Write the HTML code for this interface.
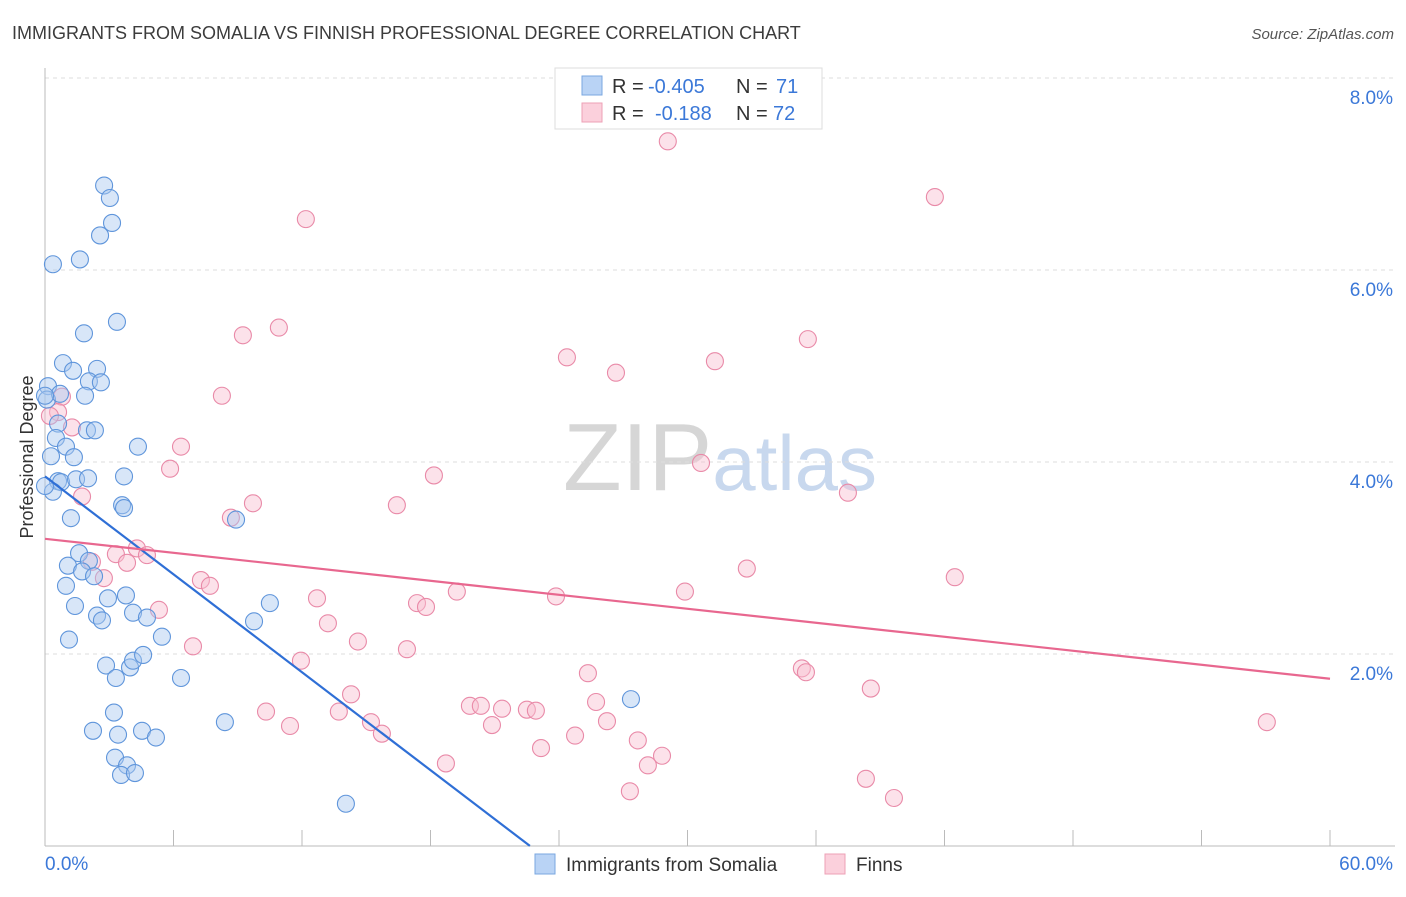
<!DOCTYPE html>
<html><head><meta charset="utf-8"><style>
body{margin:0;background:#fff;font-family:"Liberation Sans",sans-serif;}
svg text{font-family:"Liberation Sans",sans-serif;}
</style></head><body>
<svg id="chart" width="1406" height="892" xmlns="http://www.w3.org/2000/svg">
<text x="12" y="39" font-size="18" fill="#3c3c3c">IMMIGRANTS FROM SOMALIA VS FINNISH PROFESSIONAL DEGREE CORRELATION CHART</text>
<text x="1394" y="39" font-size="15" fill="#555" text-anchor="end" font-style="italic">Source: ZipAtlas.com</text>
<text x="720" y="490" font-size="96" text-anchor="middle" font-family="Liberation Serif" fill="#ddd"><tspan fill="#d6d6d6">ZIP</tspan><tspan fill="#c8d8ee" font-family="Liberation Sans" font-size="78">atlas</tspan></text>
<g id="grid"></g>
<g id="axes"></g>
<g id="marks"></g>
<text transform="translate(33,457) rotate(-90)" font-size="18" fill="#333" text-anchor="middle">Professional Degree</text>
<g>
<rect x="555" y="68" width="267" height="61" fill="#fff" stroke="#ddd"/>
<rect x="582" y="76" width="20" height="19" fill="#b9d3f5" stroke="#7aa7e0"/>
<rect x="582" y="103" width="20" height="19" fill="#fbd0dc" stroke="#eea0b6"/>
<text x="612" y="93" font-size="20" fill="#333">R =</text>
<text x="648" y="93" font-size="20" fill="#3b78d8">-0.405</text>
<text x="736" y="93" font-size="20" fill="#333">N =</text>
<text x="776" y="93" font-size="20" fill="#3b78d8">71</text>
<text x="612" y="120" font-size="20" fill="#333">R =</text>
<text x="655" y="120" font-size="20" fill="#3b78d8">-0.188</text>
<text x="736" y="120" font-size="20" fill="#333">N =</text>
<text x="773" y="120" font-size="20" fill="#3b78d8">72</text>
</g>
<g>
<rect x="535" y="854" width="20" height="20" fill="#b9d3f5" stroke="#7aa7e0"/>
<text x="566" y="871" font-size="19" fill="#333">Immigrants from Somalia</text>
<rect x="825" y="854" width="20" height="20" fill="#fbd0dc" stroke="#eea0b6"/>
<text x="856" y="871" font-size="19" fill="#333">Finns</text>
</g>
</svg>
<script>
const yTicks=[2,4,6,8];
const yTickLabels=["2.0%","4.0%","6.0%","8.0%"];
const xTickLabels=["0.0%","60.0%"];
const blueX=[2.76,3.03,3.13,2.57,0.37,1.63,3.36,1.82,0.84,1.31,2.43,2.05,2.61,0.14,0.09,0.7,1.87,0.61,1.96,2.33,0.51,0.98,1.35,0.28,4.34,3.69,0.61,0.75,1.45,2.01,0.37,3.6,3.69,8.92,1.21,1.59,2.05,1.07,1.73,2.29,0.98,2.94,3.78,10.5,1.4,2.43,2.66,4.11,4.76,1.12,5.46,9.76,2.85,3.31,3.97,4.11,4.58,6.35,3.22,8.4,2.24,3.41,4.53,5.18,3.27,3.83,3.55,4.2,14.05,27.36,0.0,0.0];
const blueY=[6.88,6.75,6.49,6.36,6.06,6.11,5.46,5.34,5.03,4.95,4.97,4.84,4.83,4.79,4.65,4.71,4.69,4.4,4.33,4.33,4.25,4.16,4.05,4.06,4.16,3.85,3.8,3.79,3.82,3.83,3.69,3.55,3.52,3.4,3.415,3.05,2.97,2.92,2.86,2.81,2.71,2.58,2.61,2.53,2.5,2.4,2.35,2.43,2.38,2.15,2.18,2.34,1.88,1.75,1.86,1.93,1.99,1.75,1.39,1.29,1.2,1.16,1.2,1.13,0.92,0.84,0.74,0.76,0.44,1.53,4.69,3.75];
const pinkX=[29.08,41.55,12.18,10.92,9.24,24.37,26.66,31.28,35.62,8.26,0.79,0.61,1.26,6.35,5.84,18.16,30.63,1.73,9.71,8.68,16.43,37.49,4.29,3.31,4.76,3.83,2.19,2.75,7.28,7.7,32.77,42.48,12.7,19.23,23.86,29.88,17.37,17.79,5.32,13.21,14.61,6.91,16.9,11.95,25.35,35.34,35.53,38.56,14.29,10.32,13.72,19.84,20.35,21.34,22.5,22.92,25.73,11.44,15.22,20.87,26.24,15.73,24.75,27.68,23.16,28.81,28.15,18.72,38.33,39.64,27.31,57.05,0.23];
const pinkY=[7.34,6.76,6.53,5.4,5.32,5.09,4.93,5.05,5.28,4.69,4.68,4.52,4.36,4.16,3.93,3.86,3.99,3.64,3.57,3.42,3.55,3.68,3.1,3.04,3.03,2.95,2.96,2.79,2.77,2.71,2.89,2.8,2.58,2.65,2.6,2.65,2.53,2.49,2.46,2.32,2.13,2.08,2.05,1.93,1.8,1.85,1.81,1.64,1.58,1.4,1.4,1.46,1.46,1.43,1.42,1.41,1.5,1.25,1.29,1.26,1.3,1.17,1.15,1.1,1.02,0.94,0.84,0.86,0.7,0.5,0.57,1.29,4.48];
const blueTrend=[3.85,-0.17];
const pinkTrend=[3.2,-0.0243];
const blueTrendX=[0,22.64];
const pinkTrendX=[0,60];
const X0=45,X1=1330,Y0=846;
function sx(v){return X0+v*(X1-X0)/60;}
function sy(v){return Y0-v*96;}
const NS="http://www.w3.org/2000/svg";
function mk(t,a,p){const e=document.createElementNS(NS,t);for(const k in a)e.setAttribute(k,a[k]);p.appendChild(e);return e;}
const grid=document.getElementById('grid'),axes=document.getElementById('axes'),marks=document.getElementById('marks');
yTicks.forEach((t,i)=>{
 const l=mk('line',{x1:X0,x2:1395,y1:sy(t),y2:sy(t),stroke:'#ddd','stroke-dasharray':'4,4'},grid);
 
 
 const tx=mk('text',{x:1393,y:sy(t)+26,'font-size':19,fill:'#3b78d8','text-anchor':'end'},axes);
 tx.textContent=yTickLabels[i];
 
 
});
const al=mk('line',{x1:X0,x2:X0,y1:68,y2:Y0,stroke:'#bbb'},axes);


const bl=mk('line',{x1:X0,x2:1395,y1:Y0,y2:Y0,stroke:'#bbb'},axes);


for(let i=0;i<=10;i++){
 const t=mk('line',{x1:sx(i*6),x2:sx(i*6),y1:830,y2:Y0,stroke:'#bbb'},axes);
 
 
}
const xl0=mk('text',{x:45,y:870,'font-size':19,fill:'#3b78d8'},axes);xl0.textContent=xTickLabels[0];


const xl1=mk('text',{x:1393,y:870,'font-size':19,fill:'#3b78d8','text-anchor':'end'},axes);xl1.textContent=xTickLabels[1];


function pts(xs,ys,fill,stroke,name){
 xs.forEach((x,i)=>{
  const c=mk('circle',{cx:sx(x),cy:sy(ys[i]),r:8.5,fill:fill,stroke:stroke,'stroke-width':1.1,'fill-opacity':0.45},marks);
  
  
 });
}
pts(pinkX,pinkY,'#f8bfd0','#e98aa8','point-finns');
pts(blueX,blueY,'#a9c8f0','#5f95db','point-somalia');
function trend(tr,xr,col,name){
 const l=mk('line',{x1:sx(xr[0]),y1:sy(tr[0]+tr[1]*xr[0]),x2:sx(xr[1]),y2:sy(tr[0]+tr[1]*xr[1]),stroke:col,'stroke-width':2.2},marks);
 
 
}
trend(blueTrend,blueTrendX,'#2f6fd6','trendline-somalia');
trend(pinkTrend,pinkTrendX,'#e8678f','trendline-finns');
</script>
</body></html>
